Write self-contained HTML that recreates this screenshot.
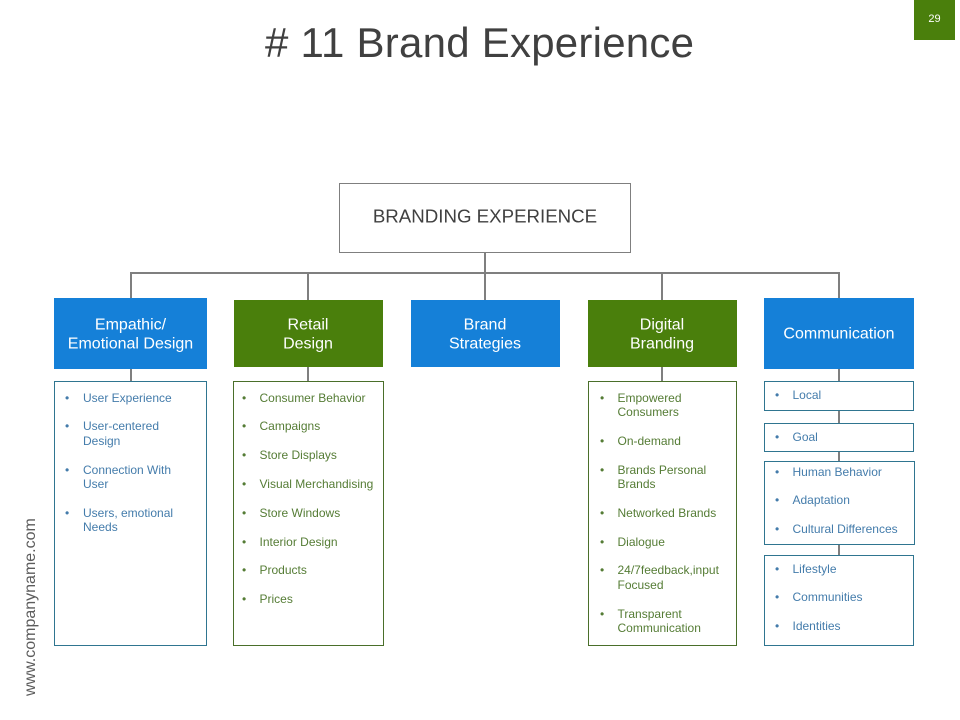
<!DOCTYPE html>
<html>
<head>
<meta charset="utf-8">
<style>
html,body{margin:0;padding:0;background:#fff}
svg{display:block}
text{font-family:"Liberation Sans",sans-serif}
.b{fill:#447cab;font-size:12px}
.g{fill:#557c35;font-size:12px}
.h{fill:#fff;font-size:16px;text-anchor:middle}
</style>
</head>
<body>
<svg width="960" height="720" viewBox="0 0 960 720" xmlns="http://www.w3.org/2000/svg">
<rect width="960" height="720" fill="#fff"/>
<text x="265" y="57" font-size="42" fill="#404040" textLength="429"># 11 Brand Experience</text>
<rect x="914" y="0" width="41" height="40" fill="#4a7f0c"/>
<text x="934.5" y="22" font-size="11" fill="#fff" text-anchor="middle">29</text>
<text transform="translate(35,696) rotate(-90)" font-size="16" fill="#5c5c5c">www.companyname.com</text>

<g stroke="#7f7f7f" stroke-width="2" fill="none">
<path d="M485 252V273M131 298V273H839V298M308 273V300M485 273V300M662 273V300"/>
<path d="M131 369V381M308 367V381M662 367V381M839 369V381M839 410V423M839 451V461M839 544V555"/>
</g>

<rect x="339.5" y="183.5" width="291" height="69" fill="#fff" stroke="#7f7f7f"/>
<text x="485" y="222.5" font-size="18.7" fill="#404040" text-anchor="middle">BRANDING EXPERIENCE</text>

<rect x="54" y="298" width="153" height="71" fill="#1580d8"/>
<rect x="234" y="300" width="149" height="67" fill="#4a7f0c"/>
<rect x="411" y="300" width="149" height="67" fill="#1580d8"/>
<rect x="588" y="300" width="149" height="67" fill="#4a7f0c"/>
<rect x="764" y="298" width="150" height="71" fill="#1580d8"/>

<text class="h" x="130.5" y="329.5">Empathic/</text>
<text class="h" x="130.5" y="348.5">Emotional Design</text>
<text class="h" x="308" y="329.5">Retail</text>
<text class="h" x="308" y="348.5">Design</text>
<text class="h" x="485" y="329.5">Brand</text>
<text class="h" x="485" y="348.5">Strategies</text>
<text class="h" x="662" y="329.5">Digital</text>
<text class="h" x="662" y="348.5">Branding</text>
<text class="h" x="839" y="338.5">Communication</text>

<g fill="#fff" stroke-width="1">
<rect x="54.5" y="381.5" width="152" height="264" stroke="#2f7590"/>
<rect x="233.5" y="381.5" width="150" height="264" stroke="#4a6f2a"/>
<rect x="588.5" y="381.5" width="148" height="264" stroke="#4a6f2a"/>
<rect x="764.5" y="381.5" width="149" height="29" stroke="#2f7590"/>
<rect x="764.5" y="423.5" width="149" height="28" stroke="#2f7590"/>
<rect x="764.5" y="461.5" width="150" height="83" stroke="#2f7590"/>
<rect x="764.5" y="555.5" width="149" height="90" stroke="#2f7590"/>
</g>

<g>
<text class="b" x="65" y="402">•</text><text class="b" x="83" y="402">User Experience</text>
<text class="b" x="65" y="430">•</text><text class="b" x="83" y="430">User-centered</text>
<text class="b" x="83" y="445">Design</text>
<text class="b" x="65" y="474">•</text><text class="b" x="83" y="474">Connection With</text>
<text class="b" x="83" y="488">User</text>
<text class="b" x="65" y="517">•</text><text class="b" x="83" y="517">Users, emotional</text>
<text class="b" x="83" y="531">Needs</text>
</g>

<g>
<text class="g" x="242" y="402">•</text><text class="g" x="259.5" y="402">Consumer Behavior</text>
<text class="g" x="242" y="430">•</text><text class="g" x="259.5" y="430">Campaigns</text>
<text class="g" x="242" y="459">•</text><text class="g" x="259.5" y="459">Store Displays</text>
<text class="g" x="242" y="488">•</text><text class="g" x="259.5" y="488">Visual Merchandising</text>
<text class="g" x="242" y="517">•</text><text class="g" x="259.5" y="517">Store Windows</text>
<text class="g" x="242" y="546">•</text><text class="g" x="259.5" y="546">Interior Design</text>
<text class="g" x="242" y="574">•</text><text class="g" x="259.5" y="574">Products</text>
<text class="g" x="242" y="603">•</text><text class="g" x="259.5" y="603">Prices</text>
</g>

<g>
<text class="g" x="600" y="402">•</text><text class="g" x="617.5" y="402">Empowered</text>
<text class="g" x="617.5" y="416">Consumers</text>
<text class="g" x="600" y="445">•</text><text class="g" x="617.5" y="445">On-demand</text>
<text class="g" x="600" y="474">•</text><text class="g" x="617.5" y="474">Brands Personal</text>
<text class="g" x="617.5" y="488">Brands</text>
<text class="g" x="600" y="517">•</text><text class="g" x="617.5" y="517">Networked Brands</text>
<text class="g" x="600" y="546">•</text><text class="g" x="617.5" y="546">Dialogue</text>
<text class="g" x="600" y="574">•</text><text class="g" x="617.5" y="574">24/7feedback,input</text>
<text class="g" x="617.5" y="589">Focused</text>
<text class="g" x="600" y="618">•</text><text class="g" x="617.5" y="618">Transparent</text>
<text class="g" x="617.5" y="632">Communication</text>
</g>

<g>
<text class="b" x="775" y="399">•</text><text class="b" x="792.5" y="399">Local</text>
<text class="b" x="775" y="441">•</text><text class="b" x="792.5" y="441">Goal</text>
<text class="b" x="775" y="476">•</text><text class="b" x="792.5" y="476">Human Behavior</text>
<text class="b" x="775" y="504">•</text><text class="b" x="792.5" y="504">Adaptation</text>
<text class="b" x="775" y="533">•</text><text class="b" x="792.5" y="533">Cultural Differences</text>
<text class="b" x="775" y="573">•</text><text class="b" x="792.5" y="573">Lifestyle</text>
<text class="b" x="775" y="601">•</text><text class="b" x="792.5" y="601">Communities</text>
<text class="b" x="775" y="630">•</text><text class="b" x="792.5" y="630">Identities</text>
</g>
</svg>
</body>
</html>
